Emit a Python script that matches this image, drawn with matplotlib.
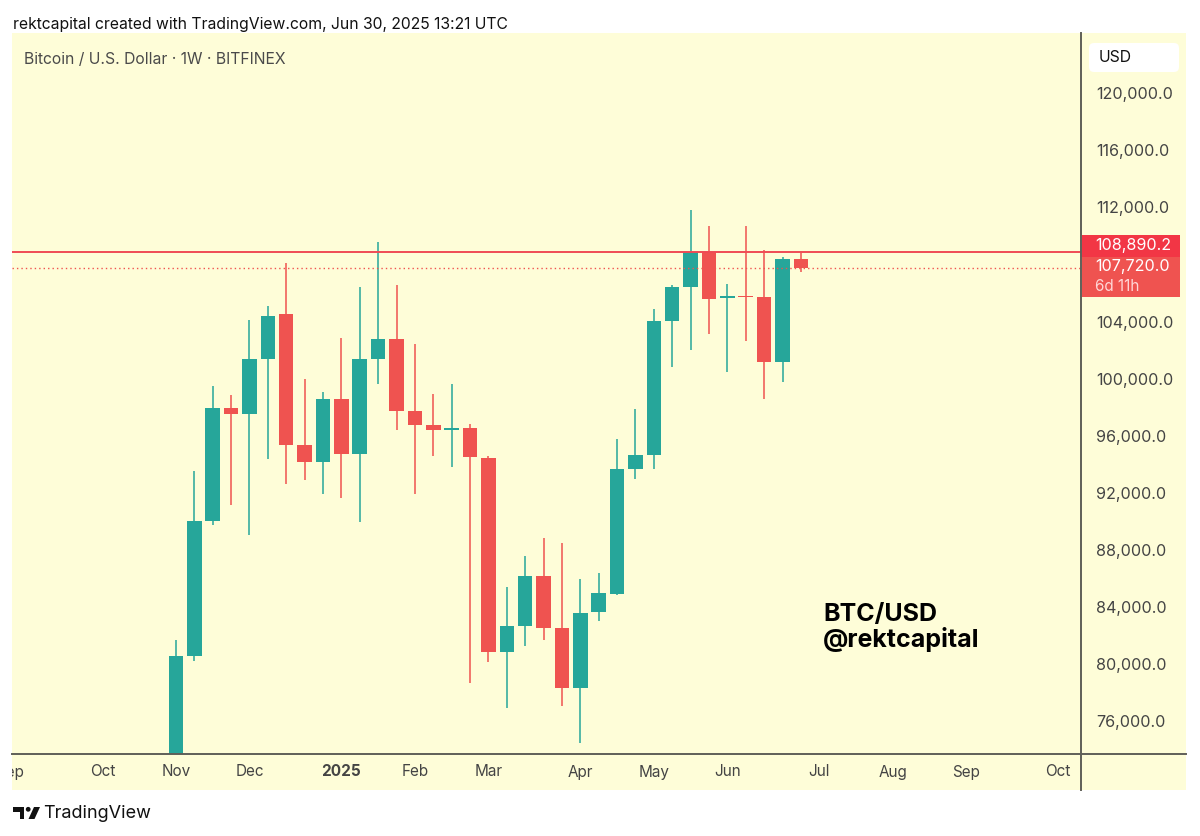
import matplotlib
matplotlib.use("Agg")
import matplotlib.pyplot as plt
from matplotlib.patches import Rectangle, FancyBboxPatch, Circle, Polygon

plt.rcParams['font.family'] = ['Inter', 'DejaVu Sans']

# ---------------- data (weekly candles, week starting Nov 4 2024 .. Jun 30 2025) -------------
weeks = ["2024-11-04", "2024-11-11", "2024-11-18", "2024-11-25", "2024-12-02", "2024-12-09",
         "2024-12-16", "2024-12-23", "2024-12-30", "2025-01-06", "2025-01-13", "2025-01-20",
         "2025-01-27", "2025-02-03", "2025-02-10", "2025-02-17", "2025-02-24", "2025-03-03",
         "2025-03-10", "2025-03-17", "2025-03-24", "2025-03-31", "2025-04-07", "2025-04-14",
         "2025-04-21", "2025-04-28", "2025-05-05", "2025-05-12", "2025-05-19", "2025-05-26",
         "2025-06-02", "2025-06-09", "2025-06-16", "2025-06-23", "2025-06-30"]
opens = [68700, 80600, 90050, 97950, 97500, 101350, 104500, 95350, 94150, 98550, 94750, 101400,
         102750, 97700, 96750, 96400, 96550, 94450, 80850, 82650, 86200, 82500, 78350, 83650,
         84900, 93700, 94650, 104050, 106400, 108900, 105650, 105800, 105700, 101150, 108350]
highs = [81700, 93500, 99500, 98850, 104100, 105100, 108100, 100000, 99100, 102850, 106400, 109550,
         106550, 102450, 98950, 99650, 96800, 94550, 85400, 87600, 88800, 88450, 85950, 86400,
         95750, 97850, 104900, 106550, 111850, 110700, 106650, 110700, 109000, 108550, 108800]
lows = [66800, 80200, 89750, 91150, 89050, 94400, 92600, 92900, 91900, 91650, 89950, 99600,
        96400, 91900, 94600, 93800, 78700, 80150, 76950, 81300, 81700, 77050, 74450, 83050,
        84850, 93000, 93650, 100850, 102000, 103100, 100500, 102650, 98550, 99800, 107500]
closes = [80600, 90050, 97950, 97500, 101350, 104400, 95350, 94150, 98550, 94750, 101350, 102750,
          97700, 96750, 96400, 96550, 94500, 80850, 82650, 86200, 82500, 78350, 83600, 84950,
          93700, 94650, 104050, 106400, 108900, 105600, 105800, 105700, 101150, 108350, 107720]

resistance = 108890.2
last_price = 107720.0
countdown = "6d 11h"

# time-axis labels (bar index relative to first candle)
month_pos = [-9, -4, 0, 4, 9, 13, 17, 22, 26, 30, 35, 39, 43, 48]
month_lbl = ["Sep", "Oct", "Nov", "Dec", "2025", "Feb", "Mar", "Apr", "May", "Jun",
             "Jul", "Aug", "Sep", "Oct"]
# 108,000 is hidden under the price tags in the reference
price_ticks = [76000, 80000, 84000, 88000, 92000, 96000, 100000, 104000,
               112000, 116000, 120000]

# ---------------- styling ----------------
W, H = 1200, 836
UP = "#26a69a"
DOWN = "#ef5350"
BG = "#fefdd8"
AXC = "#5f5f58"
TXT = "#444444"

fig = plt.figure(figsize=(W / 100, H / 100), dpi=100)
fig.patch.set_facecolor("white")


def frac(x0, y0, x1, y1):
    return [x0 / W, 1 - y1 / H, (x1 - x0) / W, (y1 - y0) / H]


# background layer
bg = fig.add_axes([0, 0, 1, 1], zorder=0)
bg.set_xlim(0, W); bg.set_ylim(H, 0); bg.axis("off")
bg.add_patch(Rectangle((12, 33), 1186 - 12, 790 - 33, facecolor=BG, edgecolor="none"))

# main price axes
PL, PT, PR, PB = 12, 33, 1081, 754
ax = fig.add_axes(frac(PL, PT, PR, PB), zorder=1)
ax.patch.set_alpha(0)
xmin, xmax = -8.92, 49.24
ymin, ymax = 73700, 124220
ax.set_xlim(xmin, xmax)
ax.set_ylim(ymin, ymax)
for s in ax.spines.values():
    s.set_visible(False)

idx = list(range(len(weeks)))
wick_w = 1.1
body_w = 0.79
for i in idx:
    o, h, l, c = opens[i], highs[i], lows[i], closes[i]
    col = UP if c >= o else DOWN
    ax.vlines(i, l, h, color=col, lw=wick_w, zorder=2)
    lo = min(o, c)
    hgt = max(abs(c - o), 120)
    ax.bar(i, hgt, bottom=lo, width=body_w, color=col, edgecolor="none", zorder=3)

ax.axhline(resistance, color="#ef4b55", lw=1.4, zorder=4)
ax.axhline(last_price, color="#ef5350", lw=1.0, ls=(0, (1, 2.2)), zorder=4)

# right price scale
ax.yaxis.tick_right()
ax.set_yticks(price_ticks)
ax.set_yticklabels([f"{v:,.1f}" for v in price_ticks])
ax.tick_params(axis="y", length=0, pad=11, labelsize=11.6, labelcolor=TXT)
ax.set_xticks([])

# time axis
axt = fig.add_axes(frac(PL, PB, PR, 790), zorder=1)
axt.patch.set_alpha(0)
axt.set_xlim(xmin, xmax); axt.set_ylim(0, 1); axt.axis("off")
for p, lbl in zip(month_pos, month_lbl):
    axt.text(p, 0.5, lbl, ha="center", va="center", fontsize=11, color=TXT,
             fontweight="bold" if lbl == "2025" else "normal", clip_on=True)

# overlay in pixel coordinates
ov = fig.add_axes([0, 0, 1, 1], zorder=5)
ov.set_xlim(0, W); ov.set_ylim(H, 0); ov.axis("off"); ov.patch.set_alpha(0)

ov.plot([PR, PR], [33, 790], color=AXC, lw=1.4)
ov.plot([PL, 1186], [PB, PB], color=AXC, lw=1.4)

ov.text(13, 24, "rektcapital created with TradingView.com, Jun 30, 2025 13:21 UTC",
        fontsize=11.3, color="#111111", va="center", ha="left")
ov.text(24, 59, "Bitcoin / U.S. Dollar · 1W · BITFINEX",
        fontsize=11.3, color="#4a4a4a", va="center", ha="left")

ov.add_patch(FancyBboxPatch((1089, 43), 90, 29, boxstyle="round,pad=0,rounding_size=5",
                            facecolor="white", edgecolor="none"))
ov.text(1099, 58, "USD", fontsize=11.3, color="#111111", va="center", ha="left")

# price tags
ov.add_patch(Rectangle((1082, 235), 98, 22, facecolor="#f23645", edgecolor="none"))
ov.add_patch(Rectangle((1082, 257), 98, 40, facecolor="#ef5350", edgecolor="none"))
ov.text(1095, 245.5, f"{resistance:,.1f}", fontsize=11.6, color="white", va="center", ha="left")
ov.text(1095, 267, f"{last_price:,.1f}", fontsize=11.6, color="white", va="center", ha="left")
ov.text(1095, 286.5, countdown, fontsize=11, color="#ffd6d6", va="center", ha="left")

# watermark
ov.text(823, 621, "BTC/USD", fontsize=18, fontweight="bold", color="black", va="baseline")
ov.text(823, 647, "@rektcapital", fontsize=18, fontweight="bold", color="black", va="baseline")

# TradingView logo + name
ov.add_patch(Rectangle((13, 807), 11, 4.5, facecolor="#111111", edgecolor="none"))
ov.add_patch(Rectangle((19.5, 807), 4.5, 12, facecolor="#111111", edgecolor="none"))
ov.add_patch(Circle((28.2, 809.3), 2.4, facecolor="#111111", edgecolor="none"))
ov.add_patch(Polygon([[34, 807], [40, 807], [34.5, 819], [28.5, 819]], closed=True,
                     facecolor="#111111", edgecolor="none"))
ov.text(43, 813, "TradingView", fontsize=13, color="#111111", va="center", ha="left")

fig.savefig("out.png", dpi=100, facecolor="white")
